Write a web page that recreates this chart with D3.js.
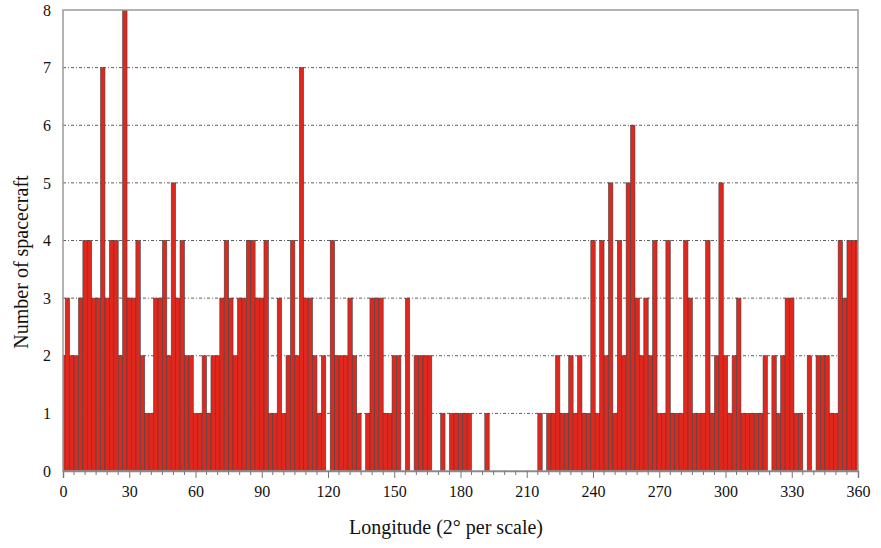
<!DOCTYPE html>
<html>
<head>
<meta charset="utf-8">
<script src="https://cdn.jsdelivr.net/npm/d3@7/dist/d3.min.js"></script>
<style>
  body { margin: 0; background: #fff; }
  svg { display: block; }
</style>
</head>
<body>
<svg id="chart" width="881" height="548"></svg>
<script>
// bin centres in degrees (2 degrees per bin), 0..360
const longitudes = d3.range(0, 362, 2);

// number of spacecraft per bin
const counts = [
  2, 3, 2, 2, 3, 4, 4, 3, 3, 7, 3, 4, 4, 2, 8, 3, 3, 4, 2, 1,
  1, 3, 3, 4, 2, 5, 3, 4, 2, 2, 1, 1, 2, 1, 2, 2, 3, 4, 3, 2,
  3, 3, 4, 4, 3, 3, 4, 1, 1, 3, 1, 2, 4, 2, 7, 3, 3, 2, 1, 2,
  0, 4, 2, 2, 2, 3, 2, 1, 0, 1, 3, 3, 3, 1, 1, 2, 2, 0, 3, 0,
  2, 2, 2, 2, 0, 0, 1, 0, 1, 1, 1, 1, 1, 0, 0, 0, 1, 0, 0, 0,
  0, 0, 0, 0, 0, 0, 0, 0, 1, 0, 1, 1, 2, 1, 1, 2, 1, 2, 1, 1,
  4, 1, 4, 2, 5, 1, 4, 2, 5, 6, 3, 2, 3, 2, 4, 1, 1, 4, 1, 1,
  1, 4, 3, 1, 1, 1, 4, 1, 2, 5, 2, 1, 2, 3, 1, 1, 1, 1, 1, 2,
  0, 2, 1, 2, 3, 3, 1, 1, 0, 2, 0, 2, 2, 2, 1, 1, 4, 3, 4, 4,
  4
];

const xTicks = d3.range(0, 361, 30);
const xMinorTicks = d3.range(0, 361, 5);
const yTicks = d3.range(0, 9, 1);

const svg = d3.select("#chart");
const margin = { top: 10, right: 23, bottom: 77, left: 63 };
const width = 881 - margin.left - margin.right;
const height = 548 - margin.top - margin.bottom;
const serif = "'Liberation Serif', 'DejaVu Serif', serif";

const x = d3.scaleLinear().domain([0, 360]).range([0, width]);
const y = d3.scaleLinear().domain([0, 8]).range([height, 0]);

const g = svg.append("g")
    .attr("transform", `translate(${margin.left},${margin.top})`);

g.append("clipPath")
    .attr("id", "plot-clip")
  .append("rect")
    .attr("width", width)
    .attr("height", height);

// dashed horizontal grid
g.append("g")
    .selectAll("line")
    .data(yTicks.filter(d => d > 0 && d < 8))
    .join("line")
    .attr("x1", 0)
    .attr("x2", width)
    .attr("y1", d => y(d))
    .attr("y2", d => y(d))
    .attr("stroke", "#5e5e5e")
    .attr("stroke-width", 1)
    .attr("stroke-dasharray", "3,2,1,2");

// bars, each 2 degrees wide, centred on its longitude
const bins = longitudes.map((lon, i) => ({ lon, n: counts[i] })).filter(d => d.n > 0);

g.append("g")
    .attr("clip-path", "url(#plot-clip)")
    .selectAll("rect")
    .data(bins)
    .join("rect")
    .attr("x", d => x(d.lon - 1))
    .attr("width", d => x(d.lon + 1) - x(d.lon - 1))
    .attr("y", d => y(d.n))
    .attr("height", d => y(0) - y(d.n))
    .attr("fill", "#e0271d")
    .attr("stroke", "#444")
    .attr("stroke-width", 0.6);

// plot frame
g.append("rect")
    .attr("width", width)
    .attr("height", height)
    .attr("fill", "none")
    .attr("stroke", "#9a9a9a")
    .attr("stroke-width", 1.5);

// x axis
const xAxis = g.append("g")
    .attr("transform", `translate(0,${height})`)
    .call(d3.axisBottom(x).tickValues(xTicks).tickSize(7).tickPadding(8).tickFormat(d3.format("d")));
xAxis.select(".domain").attr("stroke", "#8a8a8a").attr("stroke-width", 1.5);
xAxis.selectAll(".tick line").attr("stroke", "#777");
xAxis.selectAll("text")
    .attr("fill", "#111")
    .style("font-family", serif)
    .style("font-size", "16px");

g.append("g")
    .attr("transform", `translate(0,${height})`)
    .selectAll("line")
    .data(xMinorTicks.filter(d => d % 30 !== 0))
    .join("line")
    .attr("x1", d => x(d))
    .attr("x2", d => x(d))
    .attr("y1", 0)
    .attr("y2", 4)
    .attr("stroke", "#777");

// y axis (labels only, frame acts as the line)
const yAxis = g.append("g")
    .call(d3.axisLeft(y).tickValues(yTicks).tickSize(0).tickPadding(12).tickFormat(d3.format("d")));
yAxis.select(".domain").remove();
yAxis.selectAll("text")
    .attr("fill", "#111")
    .style("font-family", serif)
    .style("font-size", "16px");

// axis titles
svg.append("text")
    .attr("x", 446)
    .attr("y", 534)
    .attr("text-anchor", "middle")
    .attr("fill", "#111")
    .style("font-family", serif)
    .style("font-size", "20px")
    .text("Longitude (2° per scale)");

svg.append("text")
    .attr("transform", "translate(28,262) rotate(-90)")
    .attr("text-anchor", "middle")
    .attr("fill", "#111")
    .style("font-family", serif)
    .style("font-size", "20px")
    .text("Number of spacecraft");
</script>
</body>
</html>
